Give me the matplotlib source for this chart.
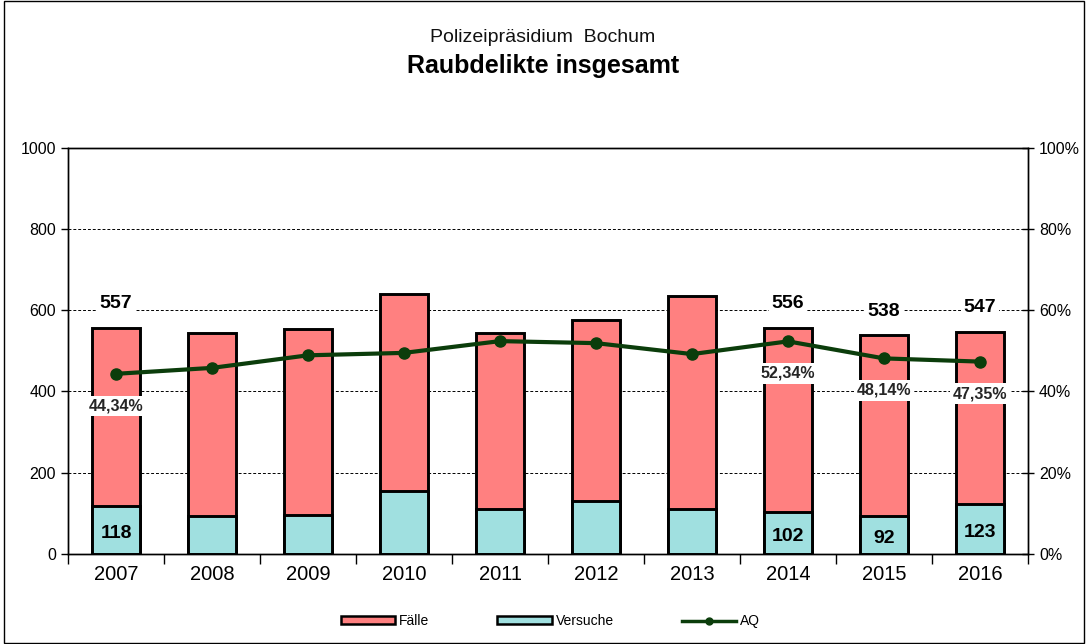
import matplotlib
matplotlib.use("Agg")
import matplotlib.pyplot as plt
from matplotlib.patches import Rectangle
from matplotlib.lines import Line2D
from matplotlib.ticker import FuncFormatter, MultipleLocator, FixedLocator
import numpy as np

plt.rcParams['font.family'] = ['Liberation Sans', 'DejaVu Sans']

years = ["2007", "2008", "2009", "2010", "2011", "2012", "2013", "2014", "2015", "2016"]
faelle = [557, 544, 554, 639, 544, 577, 634, 556, 538, 547]
versuche = [118, 93, 96, 155, 110, 129, 110, 102, 92, 123]
aq = [44.34, 45.8, 48.9, 49.5, 52.4, 51.9, 49.2, 52.34, 48.14, 47.35]
labeled = [0, 7, 8, 9]

title1 = "Polizeipräsidium  Bochum"
title2 = "Raubdelikte insgesamt"

col_faelle = "#FF8080"
col_vers = "#A0E0E0"
col_aq = "#0B3D0B"

fig = plt.figure(figsize=(10.86, 6.44), dpi=100)
ax = fig.add_axes([68/1086, 1-553.7/644, 960/1086, (553.7-148)/644])

x = np.arange(len(years))
w = 0.51
ax.bar(x, faelle, width=w, color=col_faelle, edgecolor="black", linewidth=2.1, zorder=3)
ax.bar(x, versuche, width=w, color=col_vers, edgecolor="black", linewidth=2.1, zorder=4)

ax.set_xlim(-0.5, len(years) - 0.5)
ax.set_ylim(0, 1000)
ax.yaxis.set_major_locator(MultipleLocator(200))
for yv in [200, 400, 600, 800]:
    ax.axhline(yv, color="black", linestyle=(0, (3, 2)), linewidth=0.7, zorder=1)

ax.set_xticks(x)
ax.set_xticklabels(years, fontsize=14.5)
ax.tick_params(axis="x", which="major", length=0, pad=8)
ax.xaxis.set_minor_locator(FixedLocator(np.arange(-0.5, len(years), 1.0)))
ax.tick_params(axis="x", which="minor", length=7, direction="out", width=1)
ax.tick_params(axis="y", labelsize=11.5, length=5, direction="out", width=1)
for s in ax.spines.values():
    s.set_linewidth(1.0)

for i in labeled:
    ax.text(x[i], faelle[i] + 60, str(faelle[i]), ha="center", va="center",
            fontsize=14, fontweight="bold", zorder=6,
            bbox=dict(facecolor="white", edgecolor="none", pad=2))
    ax.text(x[i], versuche[i] * 0.42, str(versuche[i]), ha="center", va="center",
            fontsize=14, fontweight="bold", zorder=6)

ax2 = ax.twinx()
ax2.set_ylim(0, 1)
ax2.yaxis.set_major_locator(MultipleLocator(0.2))
ax2.yaxis.set_major_formatter(FuncFormatter(lambda v, p: f"{v*100:.0f}%"))
ax2.tick_params(axis="y", labelsize=11.5, length=9, direction="inout", width=1)
aq_frac = [v / 100 for v in aq]
ax2.plot(x, aq_frac, color=col_aq, linewidth=3, marker="o", markersize=8, zorder=5)
for i in labeled:
    ax2.annotate(f"{aq[i]:.2f}%".replace(".", ","), (x[i], aq_frac[i]),
                 xytext=(0, -23), textcoords="offset points",
                 ha="center", va="center", fontsize=11.5, fontweight="bold", color="#262626",
                 bbox=dict(facecolor="white", edgecolor="none", pad=2), zorder=7)
for s in ax2.spines.values():
    s.set_linewidth(1.0)

fig.text(0.5, 1-37/644, title1, ha="center", va="center", fontsize=14, color="#111111")
fig.text(0.5, 1-66/644, title2, ha="center", va="center", fontsize=18, fontweight="bold")

handles = [
    Rectangle((0, 0), 1, 1, facecolor=col_faelle, edgecolor="black", linewidth=1.8),
    Rectangle((0, 0), 1, 1, facecolor=col_vers, edgecolor="black", linewidth=1.8),
    Line2D([0], [0], color=col_aq, linewidth=2.5, marker="o", markersize=5),
]
fig.legend(handles, ["Fälle", "Versuche", "AQ"], loc="center", bbox_to_anchor=(0.507, 1-621/644),
           ncol=3, frameon=False, fontsize=10, handlelength=3.9, handleheight=0.45,
           columnspacing=4.9, handletextpad=0.3)

fig.patches.append(Rectangle((0.004, 0.002), 0.994, 0.996, transform=fig.transFigure,
                             fill=False, edgecolor="black", linewidth=1))

fig.savefig("out.png", dpi=100)
